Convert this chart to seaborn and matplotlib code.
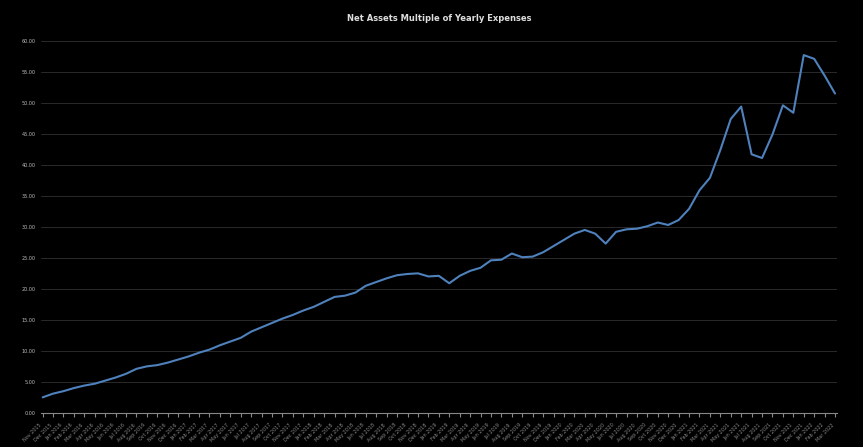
import matplotlib
matplotlib.use("Agg")
import matplotlib.pyplot as plt
import seaborn as sns
import pandas as pd
from matplotlib.ticker import FuncFormatter, MultipleLocator

values = [2.6, 3.2, 3.6, 4.1, 4.5, 4.8, 5.3, 5.8, 6.4, 7.2, 7.6, 7.8, 8.2, 8.7, 9.2, 9.8, 10.3, 11.0,
          11.6, 12.2, 13.2, 13.9, 14.6, 15.3, 15.9, 16.6, 17.2, 18.0, 18.8, 19.0, 19.5, 20.6, 21.2,
          21.8, 22.3, 22.5, 22.6, 22.1, 22.2, 21.0, 22.2, 23.0, 23.5, 24.7, 24.8, 25.8, 25.2, 25.3,
          26.0, 27.0, 28.0, 29.0, 29.6, 29.0, 27.4, 29.3, 29.7, 29.8, 30.2, 30.8, 30.4, 31.2, 33.0,
          36.0, 38.0, 42.5, 47.5, 49.5, 41.8, 41.2, 45.0, 49.7, 48.5, 57.8, 57.2, 54.5, 51.6]
dates = pd.date_range(end="2022-03-01", periods=len(values), freq="MS")
labels = [d.strftime("%b %Y") for d in dates]
df = pd.DataFrame({"i": range(len(values)), "v": values})

sns.set_style("dark")
fig, ax = plt.subplots(figsize=(8.63, 4.47), dpi=100)
fig.patch.set_facecolor("black")
ax.set_facecolor("black")
sns.lineplot(data=df, x="i", y="v", ax=ax, color="#4f81bd", linewidth=1.5)
ax.set_xlim(-0.2, len(values) - 0.8)
ax.set_ylim(0, 62)
ax.yaxis.set_major_locator(MultipleLocator(5))
ax.yaxis.set_major_formatter(FuncFormatter(lambda v, p: f"{v:.2f}"))
ax.grid(axis="y", color="#2a2a2a", linewidth=0.7)
ax.grid(axis="x", visible=False)
ax.set_xticks(range(len(values)))
ax.set_xticklabels(labels, rotation=45, ha="right", fontsize=3.5, color="#bbbbbb")
ax.tick_params(axis="y", labelsize=3.5, colors="#bbbbbb", length=0)
ax.tick_params(axis="x", colors="#888888", length=3, bottom=True)
for s in ["top", "right", "left"]:
    ax.spines[s].set_visible(False)
ax.spines["bottom"].set_color("#888888")
ax.set_xlabel("")
ax.set_ylabel("")
ax.set_title("Net Assets Multiple of Yearly Expenses", color="#dddddd", fontsize=6, fontweight="bold")
plt.subplots_adjust(left=0.047, right=0.97, top=0.935, bottom=0.075)
fig.savefig("out.png", dpi=100, facecolor="black")
